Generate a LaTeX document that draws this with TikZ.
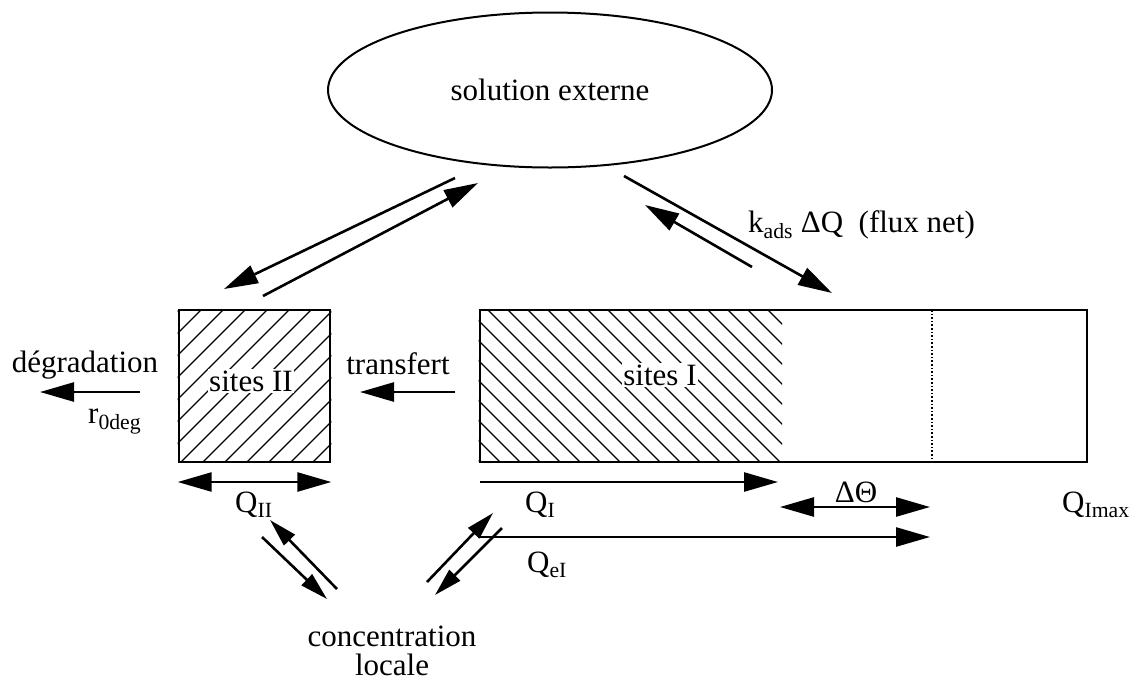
\documentclass[tikz,border=0pt]{standalone}
\usepackage{fontspec}
\setmainfont{Liberation Serif}
\usepackage{tikz}
\usetikzlibrary{arrows.meta, positioning, shapes.geometric}

\begin{document}
\begin{tikzpicture}[
  x=1pt, y=-1pt,
  every node/.style={font=\fontsize{31}{30}\selectfont, inner sep=0pt},
  box/.style={draw, rectangle, line width=2.6pt, inner sep=0pt},
  hatch/.style={line width=1.2pt},
  lab/.style={fill=white, inner sep=1.5pt},
  arr/.style={-{Triangle[length=34pt, width=19pt]}, line width=2.6pt},
  dbl/.style={{Triangle[length=34pt, width=19pt]}-{Triangle[length=34pt, width=19pt]}, line width=2.6pt},
  sarr/.style={-{Triangle[length=28pt, width=15pt]}, line width=2.6pt},
]
\useasboundingbox (0,0) rectangle (1139,681);

%% Nodes
\node[ellipse, draw, line width=2pt, minimum width=444pt, minimum height=155pt]
  (sol) at (550,90) {solution externe};
\node[box, minimum width=151pt, minimum height=152pt] (s2) at (254.5,386) {};
\node[box, minimum width=607pt, minimum height=152pt] (s1) at (783.5,386) {};

%% Hatching
\begin{scope}
  \clip (s2.south west) rectangle (s2.north east);
  \foreach \x in {27,49,...,340} \draw[hatch] (\x,462) -- ++(152,-152);
\end{scope}
\begin{scope}
  \clip (s1.south west) rectangle (782,310);
  \foreach \x in {328,348,...,790} \draw[hatch] (\x,310) -- ++(152,152);
\end{scope}
\draw[dotted, line width=1.6pt] (932,310) -- (932,462);

\node[lab, anchor=base] (t2) at (251,391) {sites II};
\node[lab, anchor=base] (t1) at (660,385) {sites I};

%% Solution <-> sites
\coordinate (e2a) at (455,178);
\coordinate (e2b) at (224,289);
\coordinate (e2c) at (263,296);
\coordinate (e2d) at (478,183);
\draw[arr] (e2a) -- (e2b);
\draw[arr] (e2c) -- (e2d);

\coordinate (e1a) at (624,176);
\coordinate (e1b) at (832,293);
\coordinate (e1c) at (752,267);
\coordinate (e1d) at (645,205);
\draw[arr] (e1a) -- (e1b);
\draw[arr] (e1c) -- (e1d);
\node[anchor=base west] (kads) at (748,232) {k\textsubscript{ads} ΔQ\ \ (flux net)};

%% Transfer and degradation
\coordinate (tra) at (455,392);
\coordinate (trb) at (360,392);
\draw[arr] (tra) -- (trb);
\node[anchor=base] (tr) at (398,374) {transfert};

\coordinate (dga) at (140,392);
\coordinate (dgb) at (40,392);
\draw[arr] (dga) -- (dgb);
\node[anchor=base] (deg) at (85,372) {dégradation};
\node[anchor=base west] (r0) at (88,423) {r\textsubscript{0deg}};

%% Quantities
\draw[dbl] (s2.south west |- 0,482) -- (s2.south east |- 0,482);
\node[anchor=base west] (q2) at (235,512) {Q\textsubscript{II}};

\coordinate (qia) at (480,482);
\coordinate (qib) at (778,482);
\draw[arr] (qia) -- (qib);
\node[anchor=base west] (q1) at (525,512) {Q\textsubscript{I}};

\coordinate (dta) at (780,507);
\coordinate (dtb) at (930,507);
\draw[dbl] (dta) -- (dtb);
\node[anchor=base] (dth) at (856,502) {ΔΘ};

\node[anchor=base west] (qmax) at (1062,512) {Q\textsubscript{Imax}};

\coordinate (qea) at (478,537);
\coordinate (qeb) at (930,537);
\draw[arr] (qea) -- (qeb);
\node[anchor=base west] (qe) at (527,572) {Q\textsubscript{eI}};

%% Local concentration
\node[anchor=base] (conc) at (392,646) {concentration};
\node[anchor=base] (loc) at (392,675) {locale};
\coordinate (c2a) at (337,589);
\coordinate (c2b) at (270,520);
\coordinate (c2c) at (262,537);
\coordinate (c2d) at (327,599);
\draw[sarr] (c2a) -- (c2b);
\draw[sarr] (c2c) -- (c2d);

\coordinate (c1a) at (427,582);
\coordinate (c1b) at (493,513);
\coordinate (c1c) at (502,528);
\coordinate (c1d) at (435,595);
\draw[sarr] (c1a) -- (c1b);
\draw[sarr] (c1c) -- (c1d);

\end{tikzpicture}
\end{document}
